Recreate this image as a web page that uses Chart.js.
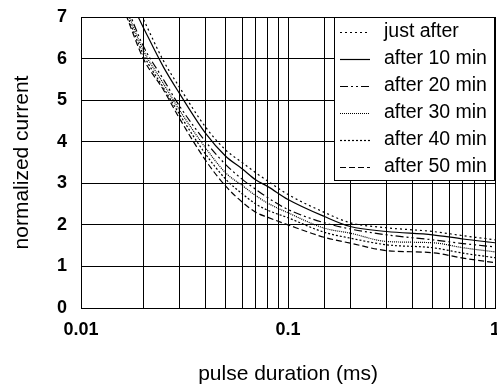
<!DOCTYPE html>
<html>
<head>
<meta charset="utf-8">
<script src="https://cdn.jsdelivr.net/npm/chart.js@4.4.1/dist/chart.umd.min.js"></script>
<style>
html, body { margin: 0; padding: 0; background: #fff; }
</style>
</head>
<body>
<canvas id="chartCurrent" width="497" height="390"></canvas>
<script>
// pulse duration (ms), shared by all series
const pulse = [0.0165, 0.02, 0.025, 0.03, 0.04, 0.05, 0.06, 0.07, 0.08, 0.1, 0.15, 0.2, 0.3, 0.5, 0.7, 1]

const justAfter = [7.8, 6.95, 5.95, 5.3, 4.35, 3.8, 3.5, 3.25, 3.05, 2.73, 2.3, 2.05, 1.93, 1.84, 1.74, 1.64]
const after10 = [7.6, 6.75, 5.8, 5.15, 4.2, 3.65, 3.35, 3.08, 2.92, 2.61, 2.2, 1.96, 1.84, 1.76, 1.66, 1.57]
const after20 = [7.3, 6.3, 5.5, 4.85, 4.0, 3.45, 3.1, 2.85, 2.65, 2.37, 2.05, 1.9, 1.76, 1.64, 1.55, 1.47]
const after30 = [7.2, 6.2, 5.4, 4.75, 3.85, 3.25, 2.95, 2.7, 2.52, 2.29, 1.92, 1.8, 1.6, 1.57, 1.45, 1.35]
const after40 = [7.1, 6.1, 5.3, 4.65, 3.7, 3.1, 2.75, 2.5, 2.35, 2.17, 1.82, 1.68, 1.52, 1.45, 1.32, 1.21]
const after50 = [7.05, 6.0, 5.25, 4.55, 3.55, 2.93, 2.55, 2.3, 2.18, 2.0, 1.7, 1.56, 1.38, 1.33, 1.2, 1.09]

const seriesNames = ['just after', 'after 10 min', 'after 20 min', 'after 30 min', 'after 40 min', 'after 50 min']
const xTickValues = [0.01, 0.1, 1]
const xTickLabels = ['0.01', '0.1', '1']

const FONT = "'Liberation Sans', Arial, sans-serif"
const dashes = [[2, 3], [], [8, 3, 2, 3, 2, 3], [1, 1], [2, 2], [6, 3]]

function pts(ys) {
    return ys.map(function (y, i) { return { x: pulse[i], y: y } })
}

const allSeries = [justAfter, after10, after20, after30, after40, after50]
const datasets = allSeries.map(function (ys, i) {
    return {
        label: seriesNames[i],
        data: pts(ys),
        borderColor: '#000',
        borderWidth: 1.2,
        borderDash: dashes[i],
        pointRadius: 0,
        fill: false,
        cubicInterpolationMode: 'monotone'
    }
})

// legend box drawn inside the plot, top right
const boxLegend = {
    id: 'boxLegend',
    afterDatasetsDraw(chart) {
        const ctx = chart.ctx
        const a = chart.chartArea
        const left = a.right - 161
        const top = a.top
        ctx.save()
        ctx.fillStyle = '#fff'
        ctx.fillRect(left, top, 161, 164)
        ctx.strokeStyle = '#000'
        ctx.lineWidth = 1
        ctx.setLineDash([])
        ctx.strokeRect(left + 0.5, top + 0.5, 160, 163)
        ctx.font = '19.5px ' + FONT
        ctx.textBaseline = 'middle'
        ctx.fillStyle = '#000'
        chart.data.datasets.forEach(function (ds, i) {
            const y = top + 15 + i * 27
            ctx.beginPath()
            ctx.setLineDash(ds.borderDash)
            ctx.lineWidth = 1.2
            ctx.moveTo(left + 6, y + 0.5)
            ctx.lineTo(left + 36, y + 0.5)
            ctx.stroke()
            ctx.setLineDash([])
            ctx.fillText(ds.label, left + 50, y)
        })
        ctx.restore()
    }
}

var ctxCurrent = document.getElementById('chartCurrent').getContext('2d');
var chartCurrent = new Chart(ctxCurrent, {
    type: 'line',
    data: { datasets: datasets },
    plugins: [boxLegend],
    options: {
        responsive: false,
        animation: false,
        layout: { padding: { top: 17, right: 2, bottom: 0, left: 0 } },
        plugins: { legend: { display: false }, tooltip: { enabled: false } },
        scales: {
            x: {
                type: 'logarithmic',
                min: 0.01,
                max: 1,
                grid: { color: '#000', lineWidth: 1, drawTicks: false },
                border: { color: '#000', width: 1 },
                ticks: {
                    autoSkip: false,
                    maxRotation: 0,
                    padding: 11,
                    color: '#000',
                    font: { family: FONT, size: 18, weight: 'bold' },
                    callback: function (v) {
                        for (let i = 0; i < xTickValues.length; i++) {
                            if (Math.abs(v - xTickValues[i]) < xTickValues[i] * 1e-6) return xTickLabels[i]
                        }
                        return ''
                    }
                },
                title: {
                    display: true,
                    text: 'pulse duration (ms)',
                    color: '#000',
                    font: { family: FONT, size: 21 },
                    padding: { top: 0, bottom: 3 }
                },
                afterFit: function (scale) {
                    scale.height = 82
                    scale.paddingRight = 2
                }
            },
            y: {
                min: 0,
                max: 7,
                grid: { color: '#000', lineWidth: 1, drawTicks: false },
                border: { color: '#000', width: 1 },
                ticks: {
                    stepSize: 1,
                    padding: 14,
                    color: '#000',
                    font: { family: FONT, size: 18, weight: 'bold' }
                },
                title: {
                    display: true,
                    text: 'normalized current',
                    color: '#000',
                    font: { family: FONT, size: 21 },
                    padding: { top: 10, bottom: 0 }
                },
                afterFit: function (scale) {
                    scale.width = 81
                    scale.paddingTop = 0
                    scale.paddingBottom = 0
                }
            }
        }
    }
});
</script>
</body>
</html>
